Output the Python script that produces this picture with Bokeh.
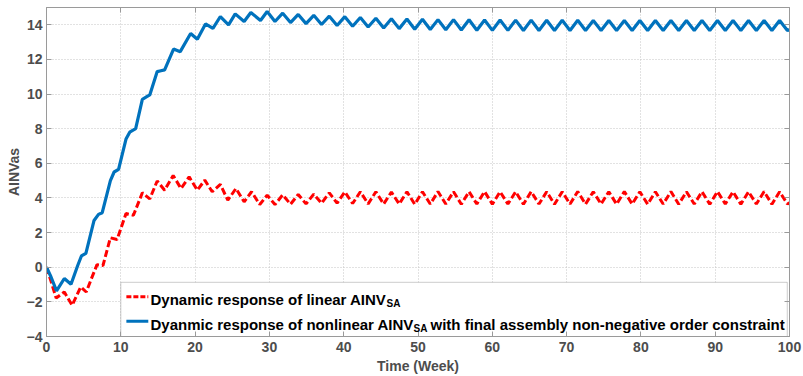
from bokeh.plotting import figure
from bokeh.models import (LinearAxis, Range1d, BoxAnnotation, Label, FixedTicker,
                          CustomJSTickFormatter)
from bokeh.embed import file_html
from bokeh.resources import INLINE

# ---------------- data ----------------
x_ticks = [0, 10, 20, 30, 40, 50, 60, 70, 80, 90, 100]
y_ticks = [-4, -2, 0, 2, 4, 6, 8, 10, 12, 14]

# transient part of the nonlinear (blue) response
blue_rise_t = [0, 0.6, 1.35, 2.4, 3.3, 4.2, 4.7, 5.3, 6.4, 7.0, 7.5, 8.6, 9.1, 9.7,
               10.7, 11.2, 12.0, 12.9, 13.5, 13.9, 14.9, 15.4, 15.9, 17.1, 18.0,
               19.4, 20.3, 21.4, 22.4, 23.4, 24.5, 25.4, 26.6, 27.5, 28.8, 29.7]
blue_rise_v = [0, -0.55, -1.37, -0.65, -0.98, 0.1, 0.65, 0.8, 2.7, 3.05, 3.15, 5.0,
               5.5, 5.65, 7.4, 7.8, 8.0, 9.7, 9.85, 9.95, 11.3, 11.35, 11.4, 12.6,
               12.45, 13.5, 13.17, 14.05, 13.8, 14.48, 14.0, 14.63, 14.19, 14.71,
               14.25, 14.77]

# transient part of the linear (red) response
red_rise_t = [0, 0.6, 1.3, 2.4, 3.45, 4.6, 5.35, 6.1, 6.8, 7.6, 8.6, 9.5, 10.7,
              11.7, 12.9, 13.9, 14.9, 15.9, 17.05, 18.1, 19.2, 20.3, 21.3, 22.3,
              23.4, 24.4, 25.5, 26.6, 27.6, 28.7, 29.7]
red_rise_v = [0, -0.8, -1.78, -1.43, -2.2, -1.14, -1.43, -0.6, 0.15, 0.1, 1.7, 1.6,
              3.1, 3.0, 4.3, 3.95, 4.98, 4.45, 5.3, 4.55, 5.22, 4.45, 5.03, 4.36,
              4.78, 3.87, 4.55, 3.78, 4.36, 3.62, 4.16]

# times of the troughs / peaks of the sustained oscillation (weeks)
osc_t = [30.75, 31.79, 32.84, 33.88, 34.93, 35.97, 37.02, 38.06, 39.11, 40.15,
         41.20, 42.24, 43.29, 44.33, 45.38, 46.42, 47.47, 48.51, 49.56, 50.60,
         51.65, 52.69, 53.74, 54.78, 55.83, 56.87, 57.92, 58.96, 60.01, 61.05,
         62.10, 63.14, 64.19, 65.23, 66.28, 67.32, 68.37, 69.41, 70.46, 71.50,
         72.55, 73.59, 74.64, 75.68, 76.73, 77.77, 78.82, 79.86, 80.91, 81.95,
         83.00, 84.04, 85.09, 86.13, 87.18, 88.22, 89.27, 90.31, 91.36, 92.40,
         93.45, 94.49, 95.54, 96.58, 97.63, 98.67, 99.72, 100.0]

blue_osc_v = [14.19, 14.67, 14.13, 14.60, 14.07, 14.55, 14.02, 14.50, 13.96, 14.47,
              13.92, 14.42, 13.87, 14.38, 13.82, 14.35, 13.78, 14.33, 13.75, 14.32,
              13.73, 14.30, 13.71, 14.30, 13.70, 14.29, 13.69, 14.28, 13.68, 14.28,
              13.68, 14.27, 13.67, 14.27, 13.67, 14.26, 13.67, 14.26, 13.67, 14.26,
              13.67, 14.25, 13.67, 14.25, 13.67, 14.25, 13.67, 14.25, 13.67, 14.25,
              13.67, 14.25, 13.67, 14.25, 13.67, 14.25, 13.67, 14.25, 13.67, 14.25,
              13.67, 14.25, 13.67, 14.25, 13.67, 14.25, 13.67, 13.72]

red_osc_v = [3.62, 4.18, 3.64, 4.20, 3.66, 4.22, 3.70, 4.30, 3.70, 4.35,
             3.68, 4.36, 3.66, 4.36, 3.65, 4.34, 3.65, 4.36, 3.64, 4.36,
             3.65, 4.37, 3.65, 4.36, 3.64, 4.36, 3.65, 4.37, 3.64, 4.36,
             3.65, 4.36, 3.64, 4.37, 3.65, 4.36, 3.64, 4.36, 3.65, 4.37,
             3.64, 4.36, 3.65, 4.36, 3.64, 4.37, 3.65, 4.36, 3.64, 4.36,
             3.65, 4.37, 3.64, 4.36, 3.65, 4.36, 3.64, 4.37, 3.65, 4.36,
             3.64, 4.36, 3.65, 4.37, 3.64, 4.36, 3.65, 3.72]

blue_t = blue_rise_t + osc_t
blue_v = blue_rise_v + blue_osc_v
red_t = red_rise_t + osc_t
red_v = red_rise_v + red_osc_v

label_linear = "Dynamic response of linear AINV"
label_nonlinear = "Dyanmic response of nonlinear AINV"
label_sub = "SA"
label_tail = "with final assembly non-negative order constraint"

# ---------------- styling ----------------
FONT = "Liberation Sans"
AXIS_GRAY = "#9a9a9a"
TEXT_GRAY = "#4d4d4d"
BLUE = "#0072BD"
RED = "#FF0000"

p = figure(width=803, height=376, output_backend="svg", toolbar_location=None,
           x_range=Range1d(0, 100), y_range=Range1d(-4, 15),
           min_border_left=46, min_border_right=14, min_border_top=7,
           min_border_bottom=40)
p.background_fill_color = "white"
p.border_fill_color = "white"
p.outline_line_color = AXIS_GRAY
p.outline_line_width = 1

for ax, ticks in ((p.xaxis[0], x_ticks), (p.yaxis[0], y_ticks)):
    ax.ticker = FixedTicker(ticks=ticks)
    ax.major_tick_in = 5
    ax.major_tick_out = 0
    ax.minor_tick_line_color = None
    ax.axis_line_color = AXIS_GRAY
    ax.major_tick_line_color = AXIS_GRAY
    ax.major_label_text_font = FONT
    ax.major_label_text_font_style = "bold"
    ax.major_label_text_font_size = "14px"
    ax.major_label_text_color = TEXT_GRAY
    ax.axis_label_text_font = FONT
    ax.axis_label_text_font_style = "bold"
    ax.axis_label_text_font_size = "14px"
    ax.axis_label_text_color = TEXT_GRAY

p.xaxis.axis_label = "Time (Week)"
p.yaxis.axis_label = "AINVas"
p.xaxis.major_label_standoff = 5
p.xaxis.axis_label_standoff = 3
p.yaxis.major_label_standoff = 4
p.yaxis.axis_label_standoff = 2

empty_fmt = CustomJSTickFormatter(code="return ''")
for side, ticks in (("above", x_ticks), ("right", y_ticks)):
    extra = LinearAxis(ticker=FixedTicker(ticks=ticks), formatter=empty_fmt,
                       major_tick_in=5, major_tick_out=0, minor_tick_line_color=None,
                       axis_line_color=AXIS_GRAY, major_tick_line_color=AXIS_GRAY,
                       major_label_standoff=0, major_label_text_font_size="1px")
    p.add_layout(extra, side)

p.xgrid.ticker = FixedTicker(ticks=x_ticks)
p.ygrid.ticker = FixedTicker(ticks=y_ticks)
for g in (p.xgrid[0], p.ygrid[0]):
    g.grid_line_color = "#c4c4c4"
    g.grid_line_dash = "1 2"
    g.grid_line_width = 1

# data lines
p.line(red_t, red_v, line_color=RED, line_width=3, line_dash="7 3")
p.line(blue_t, blue_v, line_color=BLUE, line_width=3.2)

# ---------------- legend (drawn by hand to allow subscripts) ----------------
box = BoxAnnotation(left=10, right=99.7, bottom=-4, top=-0.87, fill_color="white",
                    fill_alpha=1, line_color="#555555", line_width=1, level="underlay")
p.add_layout(box)

p.line([10.75, 13.7], [-1.71, -1.71], line_color=RED, line_width=3, line_dash="5 2")
p.line([10.75, 13.7], [-3.12, -3.12], line_color=BLUE, line_width=3)

common = dict(text_font=FONT, text_font_style="bold", text_color="black",
              text_baseline="alphabetic", text_align="left")
p.add_layout(Label(x=14.0, y=-1.85, text=label_linear, text_font_size="15px", **common))
p.add_layout(Label(x=14.0, x_offset=236, y=-2.08, text=label_sub, text_font_size="10px", **common))
p.add_layout(Label(x=14.0, y=-3.30, text=label_nonlinear, text_font_size="15px", **common))
p.add_layout(Label(x=14.0, x_offset=263, y=-3.53, text=label_sub, text_font_size="10px", **common))
p.add_layout(Label(x=14.0, x_offset=280, y=-3.30, text=label_tail, text_font_size="15px", **common))

open("out.html", "w").write(file_html(p, INLINE))
